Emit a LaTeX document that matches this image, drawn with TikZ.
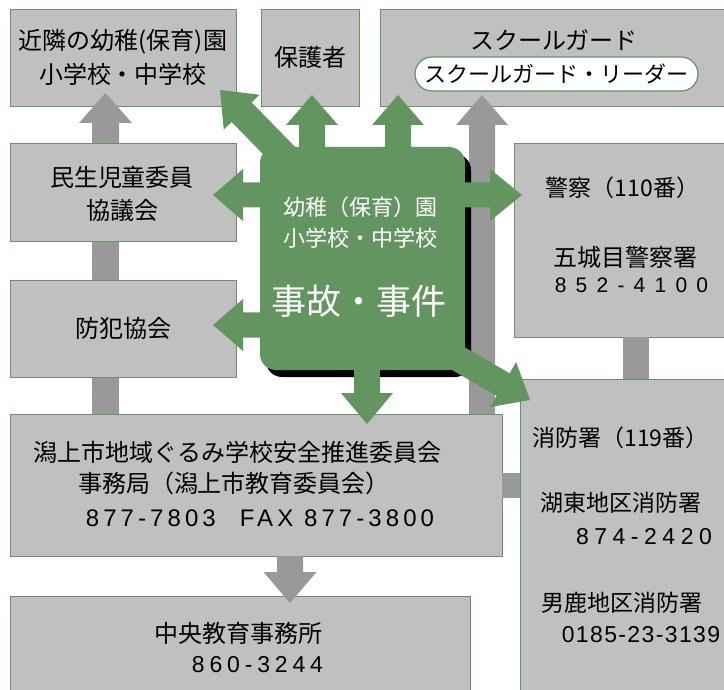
\documentclass[tikz,border=0pt]{standalone}
\usepackage{fontspec}
\setmainfont{Noto Sans CJK JP}
\newfontfamily\numfont{Liberation Sans}
\usetikzlibrary{calc}
\definecolor{ggreen}{RGB}{98,149,96}
\definecolor{boxg}{RGB}{192,192,192}
\definecolor{barg}{RGB}{153,153,153}
\definecolor{shad}{RGB}{0,0,0}
% #1 colour, #2 from, #3 to, #4 shaft half width, #5 head half width, #6 head length
\newcommand{\blockarrow}[6]{%
  \path ($(#3)!#6!(#2)$) coordinate (ba-h);
  \fill[#1] ($(#2)!#4!90:(#3)$) -- ($(ba-h)!#4!90:(#3)$) -- ($(ba-h)!#5!90:(#3)$) -- (#3)
    -- ($(ba-h)!#5!-90:(#3)$) -- ($(ba-h)!#4!-90:(#3)$) -- ($(#2)!#4!-90:(#3)$) -- cycle;}
\newcommand{\numtxt}[2]{{\numfont\addfontfeature{LetterSpace=#1}#2}}
\begin{document}
\begin{tikzpicture}[x=1pt,y=-1pt,
  box/.style={draw=ggreen, line width=1.2pt, fill=boxg, anchor=north west, inner sep=0pt},
  t24/.style={font=\fontsize{24}{28}\selectfont, inner sep=0pt},
  t23/.style={font=\fontsize{23}{27}\selectfont, inner sep=0pt},
  wt/.style={text=white, font=\fontsize{22}{26}\selectfont, inner sep=0pt}]
\useasboundingbox (0,0) rectangle (724,690);
\clip (0,0) rectangle (724,690);
% grey bar behind the left column
\fill[barg] (92,123) rectangle (119,414);
% boxes
\node[box, minimum width=226pt, minimum height=97pt] (b1) at (10,9) {};
\node[box, minimum width=98pt, minimum height=97pt] (b2) at (261,9) {};
\node[box, minimum width=360pt, minimum height=97pt] (b3) at (380,9) {};
\node[box, minimum width=226pt, minimum height=98pt] (b4) at (10,143) {};
\node[box, minimum width=226pt, minimum height=97pt] (b5) at (10,280) {};
\node[box, minimum width=492pt, minimum height=142pt] (b6) at (10,414) {};
\node[box, minimum width=460pt, minimum height=110pt] (b7) at (10,596) {};
\node[box, minimum width=220pt, minimum height=194pt] (b8) at (514,143) {};
\node[box, minimum width=220pt, minimum height=330pt] (b9) at (520,379) {};
\node[draw=ggreen, line width=1.2pt, fill=white, rounded corners=17pt, minimum width=283pt,
  minimum height=34pt, inner sep=0pt, font=\fontsize{22}{26}\selectfont] (pill) at (556.5,74) {スクールガード・リーダー};
% grey connectors
\coordinate (gl-s) at (105.5,143); \coordinate (gl-t) at (105.5,93);
\blockarrow{barg}{gl-s}{gl-t}{13.5pt}{26.5pt}{30pt}
\coordinate (gr-s) at (482,414); \coordinate (gr-t) at (482,95);
\blockarrow{barg}{gr-s}{gr-t}{13pt}{26pt}{30pt}
\coordinate (gd-s) at (290,556); \coordinate (gd-t) at (290,603);
\blockarrow{barg}{gd-s}{gd-t}{13pt}{26.5pt}{31pt}
\fill[barg] (623,337) rectangle (649,379);
\fill[barg] (502,473) rectangle (520,498);
% centre box with its shadow
\fill[shad, rounded corners=16pt] (266,154) rectangle (471,377);
\fill[ggreen, rounded corners=16pt] (260,147) rectangle (465,370);
\path (260,147) rectangle (465,370) node[midway, inner sep=0pt] (c) {};
% green arrows
\coordinate (a1s) at (300,172); \coordinate (a1t) at (220,90);
\blockarrow{ggreen}{a1s}{a1t}{14pt}{25pt}{31pt}
\coordinate (a2s) at (312,160); \coordinate (a2t) at (312,95);
\blockarrow{ggreen}{a2s}{a2t}{13pt}{26pt}{30pt}
\coordinate (a3s) at (398,160); \coordinate (a3t) at (398,95);
\blockarrow{ggreen}{a3s}{a3t}{13pt}{26pt}{30pt}
\coordinate (a4s) at (280,195); \coordinate (a4t) at (213,195);
\blockarrow{ggreen}{a4s}{a4t}{12.5pt}{26pt}{30pt}
\coordinate (a5s) at (280,325); \coordinate (a5t) at (213,325);
\blockarrow{ggreen}{a5s}{a5t}{12.5pt}{26pt}{30pt}
\coordinate (a6s) at (440,195); \coordinate (a6t) at (522,195);
\blockarrow{ggreen}{a6s}{a6t}{12.5pt}{26pt}{32pt}
\coordinate (a7s) at (367,340); \coordinate (a7t) at (367,424);
\blockarrow{ggreen}{a7s}{a7t}{13pt}{26pt}{31pt}
\coordinate (a8s) at (400,325); \coordinate (a8t) at (530,400);
\blockarrow{ggreen}{a8s}{a8t}{13pt}{26pt}{31pt}
% texts
\node[t24] (t1a) at (123,42) {近隣の幼稚(保育)園};
\node[t24] (t1b) at (123,74) {小学校・中学校};
\node[t24] (t2) at (310,57) {保護者};
\node[t24] (t3) at (554,40) {スクールガード};
\node[t24] (t4a) at (122,177) {民生児童委員};
\node[t24] (t4b) at (122,210) {協議会};
\node[t24] (t5) at (123,328) {防犯協会};
\node[t24] (t6a) at (237.5,452) {潟上市地域ぐるみ学校安全推進委員会};
\node[t24] (t6b) at (234,483) {事務局（潟上市教育委員会）};
\node[t24] (t6c) at (260,518) {\numtxt{17}{877-7803\quad FAX 877-3800}};
\node[t24] (t7a) at (238.5,633) {中央教育事務所};
\node[t23] (t7b) at (257.5,665) {\numtxt{21}{860-3244}};
\node[t23] (t8a) at (622.5,188) {警察（110番）};
\node[t24] (t8b) at (625,257) {五城目警察署};
\node[font=\fontsize{21}{25}\selectfont, inner sep=0pt] (t8c) at (631.5,285) {\numtxt{44}{852-4100}};
\node[t23] (t9a) at (620.5,438) {消防署（119番）};
\node[t23] (t9b) at (621,503) {湖東地区消防署};
\node[t23] (t9c) at (644,537) {\numtxt{24}{874-2420}};
\node[t23] (t9d) at (621.5,603) {男鹿地区消防署};
\node[t23] (t9e) at (641,635) {\numtxt{6}{0185-23-3139}};
\node[wt] (ca) at (360,207) {幼稚（保育）園};
\node[wt] (cb) at (360,238) {小学校・中学校};
\node[text=white, font=\fontsize{35}{40}\selectfont, inner sep=0pt] (cc) at (359,301) {事故・事件};
\end{tikzpicture}
\end{document}
